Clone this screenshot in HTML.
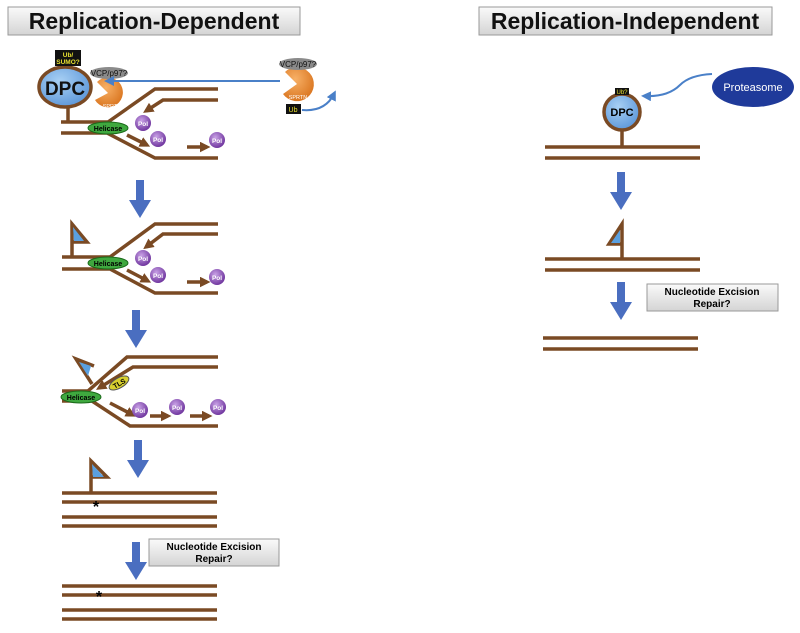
<!DOCTYPE html>
<html><head><meta charset="utf-8"><style>
html,body{margin:0;padding:0;background:#fff;}
svg{display:block;font-family:"Liberation Sans",sans-serif;}
</style></head><body>
<svg width="800" height="633" viewBox="0 0 800 633" xmlns="http://www.w3.org/2000/svg">
<defs>
<linearGradient id="gb" x1="0" y1="0" x2="0" y2="1"><stop offset="0" stop-color="#fafafa"/><stop offset="1" stop-color="#d4d4d4"/></linearGradient>
<radialGradient id="pol" cx="0.4" cy="0.35" r="0.7"><stop offset="0" stop-color="#c9a2e6"/><stop offset="1" stop-color="#6a2f9a"/></radialGradient>
<radialGradient id="dpc" cx="0.4" cy="0.35" r="0.7"><stop offset="0" stop-color="#a8d0f4"/><stop offset="1" stop-color="#5a95d8"/></radialGradient>
<radialGradient id="or" cx="0.4" cy="0.35" r="0.7"><stop offset="0" stop-color="#f7b066"/><stop offset="1" stop-color="#d9741e"/></radialGradient>
<marker id="ah" markerWidth="3" markerHeight="3" refX="2" refY="1.5" orient="auto" markerUnits="strokeWidth"><path d="M0,0 L3,1.5 L0,3 z" fill="#7a4a24"/></marker>
<marker id="bh" markerWidth="5" markerHeight="5" refX="3" refY="2.5" orient="auto" markerUnits="strokeWidth"><path d="M0,0 L5,2.5 L0,5 z" fill="#4a80c8"/></marker>
<g id="down"><rect x="-4" y="0" width="8" height="24" fill="#4a6ec0"/><path d="M-11,20 L11,20 L0,38 z" fill="#4a6ec0"/></g>
</defs>

<rect x="8" y="7" width="292" height="28" fill="url(#gb)" stroke="#999" stroke-width="1"/>
<text x="154" y="29" font-size="23" font-weight="bold" text-anchor="middle" fill="#111">Replication-Dependent</text>
<rect x="479" y="7" width="293" height="28" fill="url(#gb)" stroke="#999" stroke-width="1"/>
<text x="625" y="29" font-size="23" font-weight="bold" text-anchor="middle" fill="#111">Replication-Independent</text>

<g stroke="#7a4a24" stroke-width="3.5" fill="none" stroke-linecap="butt">
<path d="M68,107 V122 M61,122 H108 L155,89 H218"/>
<path d="M61,133 H107 L155,158 H218"/>
<path d="M218,100 H163 L146,111" marker-end="url(#ah)"/>
<path d="M127,135 L147,145" marker-end="url(#ah)"/>
<path d="M187,147 H207" marker-end="url(#ah)"/>
<path d="M72,257 V224 L87,242 H72"/>
<path d="M62,257 H110 L155,224 H218"/>
<path d="M62,269 H110 L155,293 H218"/>
<path d="M218,234 H163 L146,247" marker-end="url(#ah)"/>
<path d="M127,270 L148,281" marker-end="url(#ah)"/>
<path d="M187,282 H207" marker-end="url(#ah)"/>
<path d="M62,391 H88 L127,357 H218"/>
<path d="M218,367 H133 L99,388" marker-end="url(#ah)"/>
<path d="M92,384 L76,359 L94,366"/>
<path d="M62,401 H92 L130,426 H218"/>
<path d="M110,403 L133,415" marker-end="url(#ah)"/>
<path d="M150,416 H168" marker-end="url(#ah)"/>
<path d="M190,416 H209" marker-end="url(#ah)"/>
<path d="M91,493 V461 L107,477 H91"/>
<path d="M62,493 H217 M62,502 H217 M62,517 H217 M62,526 H217"/>
<path d="M62,586 H217 M62,595 H217 M62,610 H217 M62,619 H217"/>
<path d="M622,130 V147 M545,147 H700 M545,158 H700"/>
<path d="M622,259 V224 L609,244 H622"/>
<path d="M545,259 H700 M545,270 H700"/>
<path d="M543,338 H698 M543,349 H698"/>
</g>
<path d="M73,227 L84,241 H74 z" fill="#5aa0e0"/>
<path d="M79,362 L91,366 L88,376 z" fill="#5aa0e0"/>
<path d="M92,464 L104,477 H93 z" fill="#5aa0e0"/>
<path d="M620,230 L611,243 H620 z" fill="#5aa0e0"/>

<ellipse cx="65" cy="87" rx="26" ry="20" fill="url(#dpc)" stroke="#7a4a24" stroke-width="3.5"/>
<text x="65" y="95" font-size="19" font-weight="bold" text-anchor="middle" fill="#111">DPC</text>
<rect x="55" y="50" width="26" height="16" fill="#111"/>
<text x="68" y="57" font-size="6.5" font-weight="bold" text-anchor="middle" fill="#e8e030">Ub/</text>
<text x="68" y="64" font-size="6.5" font-weight="bold" text-anchor="middle" fill="#e8e030">SUMO?</text>
<path d="M108,93 L97,82 A15,15 0 1 1 95,100 z" fill="url(#or)"/>
<text x="112" y="108" font-size="5.5" fill="#fff" text-anchor="middle">SPRTN</text>
<ellipse cx="109" cy="73" rx="19" ry="6" fill="#8a8a8a"/>
<text x="109" y="76" font-size="8" text-anchor="middle" fill="#111">VCP/p97?</text>
<path d="M280,81 H108" stroke="#4a80c8" stroke-width="2" fill="none" marker-end="url(#bh)"/>
<path d="M297,84 L285,72 A17,17 0 1 1 283,94 z" fill="url(#or)"/>
<ellipse cx="298" cy="64" rx="19" ry="6" fill="#8a8a8a"/>
<text x="298" y="67" font-size="8" text-anchor="middle" fill="#111">VCP/p97?</text>
<text x="298" y="99" font-size="5.5" fill="#fff" text-anchor="middle">SPRTN</text>
<rect x="286" y="104" width="15" height="10" fill="#111"/>
<text x="293" y="112" font-size="7" text-anchor="middle" fill="#e8e030">Ub</text>
<path d="M302,110 Q325,112 334,94" stroke="#4a80c8" stroke-width="2" fill="none" marker-end="url(#bh)"/>

<g font-size="7" font-weight="bold" text-anchor="middle">
<ellipse cx="108" cy="128" rx="20" ry="6" fill="#3fa83f" stroke="#1a6a1a"/>
<text x="108" y="131">Helicase</text>
<ellipse cx="108" cy="263" rx="20" ry="6" fill="#3fa83f" stroke="#1a6a1a"/>
<text x="108" y="266">Helicase</text>
<ellipse cx="81" cy="397" rx="20" ry="6" fill="#3fa83f" stroke="#1a6a1a"/>
<text x="81" y="400">Helicase</text>
<ellipse cx="119" cy="383" rx="11" ry="5" fill="#d8d030" stroke="#555" transform="rotate(-30 119 383)"/>
<text x="119" y="386" transform="rotate(-30 119 383)">TLS</text>
<g fill="url(#pol)"><circle cx="143" cy="123" r="8"/><circle cx="158" cy="139" r="8"/><circle cx="217" cy="140" r="8"/>
<circle cx="143" cy="258" r="8"/><circle cx="158" cy="275" r="8"/><circle cx="217" cy="277" r="8"/>
<circle cx="140" cy="410" r="8"/><circle cx="177" cy="407" r="8"/><circle cx="218" cy="407" r="8"/></g>
<g fill="#fff" font-size="6.5"><text x="143" y="126">Pol</text><text x="158" y="142">Pol</text><text x="217" y="143">Pol</text>
<text x="143" y="261">Pol</text><text x="158" y="278">Pol</text><text x="217" y="280">Pol</text>
<text x="140" y="413">Pol</text><text x="177" y="410">Pol</text><text x="218" y="410">Pol</text></g>
</g>
<text x="96" y="512" font-size="16" font-weight="bold" text-anchor="middle">*</text>
<text x="99" y="602" font-size="16" font-weight="bold" text-anchor="middle">*</text>

<use href="#down" x="140" y="180"/>
<use href="#down" x="136" y="310"/>
<use href="#down" x="138" y="440"/>
<use href="#down" x="136" y="542"/>
<use href="#down" x="621" y="172"/>
<use href="#down" x="621" y="282"/>

<rect x="149" y="539" width="130" height="27" fill="url(#gb)" stroke="#999"/>
<text x="214" y="550" font-size="10" font-weight="bold" text-anchor="middle">Nucleotide Excision</text>
<text x="214" y="562" font-size="10" font-weight="bold" text-anchor="middle">Repair?</text>
<rect x="647" y="284" width="131" height="27" fill="url(#gb)" stroke="#999"/>
<text x="712" y="295" font-size="10" font-weight="bold" text-anchor="middle">Nucleotide Excision</text>
<text x="712" y="307" font-size="10" font-weight="bold" text-anchor="middle">Repair?</text>

<circle cx="622" cy="112" r="18" fill="url(#dpc)" stroke="#7a4a24" stroke-width="3.5"/>
<text x="622" y="116" font-size="11" font-weight="bold" text-anchor="middle">DPC</text>
<rect x="615" y="88" width="14" height="7" fill="#111"/>
<text x="622" y="94" font-size="6" text-anchor="middle" fill="#e8e030">Ub?</text>
<ellipse cx="753" cy="87" rx="41" ry="20" fill="#1f3a9a"/>
<text x="753" y="91" font-size="11" text-anchor="middle" fill="#fff">Proteasome</text>
<path d="M712,74 Q690,75 680,85 Q668,97 645,96" stroke="#4a80c8" stroke-width="2" fill="none" marker-end="url(#bh)"/>
</svg>
</body></html>
